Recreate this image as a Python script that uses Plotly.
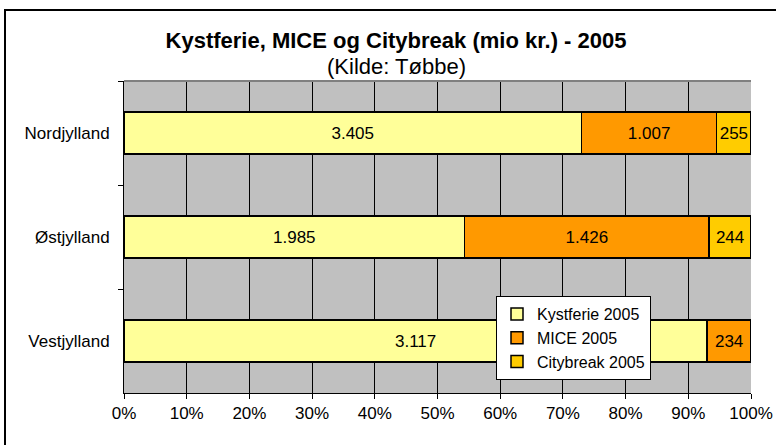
import plotly.graph_objects as go

REGIONS = ["Nordjylland", "Østjylland", "Vestjylland"]
KYSTFERIE = [3405, 1985, 3117]
MICE = [1007, 1426, 234]
CITYBREAK = [255, 244, None]

SERIES = [
    ("Kystferie 2005", KYSTFERIE, "#FFFF99"),
    ("MICE 2005", MICE, "#FF9900"),
    ("Citybreak 2005", CITYBREAK, "#FFCC00"),
]

FONT = "Arial, 'Liberation Sans', sans-serif"

# plot area in pixels (from reference)
L, R, T, B = 124, 751, 81, 393
W, H = 776, 445
PW, PH = R - L, B - T


def fmt(v):
    return "" if v is None else f"{v:,}".replace(",", ".")


fig = go.Figure()
for name, vals, color in SERIES:
    fig.add_trace(
        go.Bar(
            y=REGIONS,
            x=vals,
            name=name,
            orientation="h",
            marker=dict(color=color, line=dict(color="black", width=1.5)),
            text=[fmt(v) for v in vals],
            textposition="inside",
            insidetextanchor="middle",
            textangle=0,
            constraintext="none",
            textfont=dict(color="black", size=17, family=FONT),
            hoverinfo="skip",
        )
    )

fig.update_layout(
    width=W,
    height=H,
    autosize=False,
    barmode="stack",
    barnorm="percent",
    bargap=0.6,
    paper_bgcolor="white",
    plot_bgcolor="#C0C0C0",
    font=dict(family=FONT, color="black", size=17),
    margin=dict(l=L, r=W - R, t=T, b=H - B, pad=0, autoexpand=False),
    uniformtext=dict(mode="show", minsize=17),
    title=dict(
        text="<b>Kystferie, MICE og Citybreak (mio kr.) - 2005</b>",
        font=dict(size=22, family=FONT, color="black"),
        x=396 / W,
        xanchor="center",
        xref="container",
        y=1 - 40 / H,
        yanchor="middle",
        yref="container",
    ),
    showlegend=True,
    legend=dict(
        x=(496 - L) / PW,
        y=(B - 296) / PH,
        xanchor="left",
        yanchor="top",
        bgcolor="white",
        bordercolor="black",
        borderwidth=1,
        traceorder="normal",
        font=dict(size=16, family=FONT),
        itemwidth=30,
        tracegroupgap=0,
    ),
    annotations=[
        dict(
            text="(Kilde: Tøbbe)",
            x=(396 - L) / PW,
            y=1 + (T - 67) / PH,
            xref="paper",
            yref="paper",
            xanchor="center",
            yanchor="middle",
            showarrow=False,
            font=dict(size=22, family=FONT, color="black"),
        )
    ],
    shapes=[
        # outer chart border
        dict(
            type="rect",
            xref="paper",
            yref="paper",
            x0=(5 - L) / PW,
            x1=(790 - L) / PW,
            y0=-(470 - B) / PH,
            y1=1 + (T - 10) / PH,
            line=dict(color="black", width=2),
            layer="below",
        ),
        # plot area top border
        dict(
            type="line",
            xref="paper",
            yref="paper",
            x0=0,
            x1=1,
            y0=1,
            y1=1,
            line=dict(color="#808080", width=2),
        ),
    ],
)

fig.update_xaxes(
    range=[0, 100],
    dtick=10,
    ticksuffix="%",
    showgrid=True,
    gridcolor="black",
    gridwidth=1,
    zeroline=False,
    showline=True,
    linecolor="black",
    linewidth=1,
    ticks="outside",
    ticklen=5,
    tickcolor="black",
    tickfont=dict(size=17, family=FONT),
    automargin=False,
    fixedrange=True,
)
fig.update_yaxes(
    autorange="reversed",
    tickson="boundaries",
    showgrid=False,
    showline=True,
    linecolor="black",
    linewidth=1,
    ticks="outside",
    ticklen=5,
    tickcolor="black",
    ticklabelstandoff=10,
    tickfont=dict(size=17, family=FONT),
    automargin=False,
    fixedrange=True,
)

# the page has a default 8px body margin; drop it so the figure sits at 0,0
fig.write_html(
    "out.html",
    config={"displayModeBar": False},
    post_script="document.body.style.margin='0';",
)
